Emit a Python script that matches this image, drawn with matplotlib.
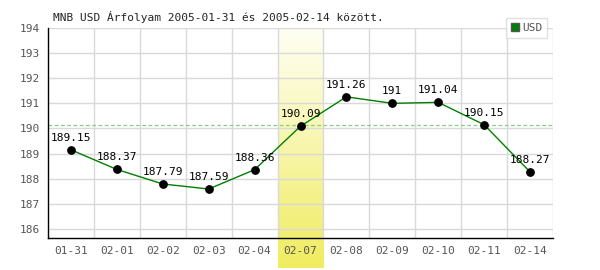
import matplotlib
matplotlib.use("Agg")
import matplotlib.pyplot as plt
import numpy as np
from matplotlib.colors import LinearSegmentedColormap

# exchange rates, MNB USD
dates = ['01-31', '02-01', '02-02', '02-03', '02-04', '02-07',
         '02-08', '02-09', '02-10', '02-11', '02-14']
rates = [189.15, 188.37, 187.79, 187.59, 188.36, 190.09,
         191.26, 191.0, 191.04, 190.15, 188.27]
rate_labels = ['189.15', '188.37', '187.79', '187.59', '188.36', '190.09',
               '191.26', '191', '191.04', '190.15', '188.27']
highlight = 5          # 02-07 column
ref_level = 190.13     # dashed reference line
yticks = [186, 187, 188, 189, 190, 191, 192, 193, 194]

plt.rcParams['font.family'] = ['DejaVu Sans Mono']

fig = plt.figure(figsize=(6, 2.7), dpi=100)
ax = fig.add_axes([48/600, 1 - 238/270, 505/600, 210/270])

n = len(dates)
x = np.arange(n)
ax.set_xlim(-0.5, n - 0.5)
ax.set_ylim(185.64, 194.0)

# grid
for yv in yticks:
    ax.axhline(yv, color='#d9d9d9', linewidth=1, zorder=1)
for b in np.arange(-0.5, n, 1.0)[1:]:
    ax.axvline(b, color='#d9d9d9', linewidth=1, zorder=1)

# highlighted column, gradient extending below the axis
grad = np.linspace(0, 1, 100).reshape(-1, 1)
cmap = LinearSegmentedColormap.from_list('hl', ['#fffff4', '#f0ec60'])
ax.imshow(grad, cmap=cmap, aspect='auto',
          extent=(highlight - 0.5, highlight + 0.5, 185.64 - 30/25.1, 194.0),
          origin='upper', zorder=0.5, clip_on=False)

ax.axhline(ref_level, color='#88cc88', linewidth=0.9, linestyle=(0, (3, 2)), zorder=2)

ax.plot(x, rates, color='#008000', linewidth=1, zorder=3)
ax.scatter(x, rates, s=28, color='black', zorder=4)
for xi, yi, lab in zip(x, rates, rate_labels):
    ax.annotate(lab, (xi, yi), xytext=(0, 5), textcoords='offset points',
                ha='center', va='bottom', fontsize=8, color='black', zorder=5)

ax.set_xticks(x)
ax.set_xticklabels(dates)
ax.set_yticks(yticks)
ax.tick_params(length=0, labelsize=8, colors='#555555', pad=6)
for s in ['top', 'right']:
    ax.spines[s].set_visible(False)
for s in ['left', 'bottom']:
    ax.spines[s].set_color('black')
    ax.spines[s].set_linewidth(1)
    ax.spines[s].set_zorder(6)

fig.text(53/600, 1 - 17/270, 'MNB USD Árfolyam 2005-01-31 és 2005-02-14 között.',
         fontsize=8, color='#222222', va='center', ha='left')

# legend box
lg = ax.legend([plt.Rectangle((0, 0), 1, 1, facecolor='#008000', edgecolor='#555555')],
               ['USD'], loc='upper right', bbox_to_anchor=(553/600, 1 - 12/270),
               bbox_transform=fig.transFigure, fontsize=8, frameon=True,
               fancybox=False, handlelength=0.7, handleheight=0.7,
               handletextpad=0.3, borderpad=0.45, labelcolor='#555555')
lg.get_frame().set_edgecolor('#d9d9d9')
lg.get_frame().set_linewidth(1)
lg.set_zorder(10)

fig.savefig('out.png', dpi=100)
